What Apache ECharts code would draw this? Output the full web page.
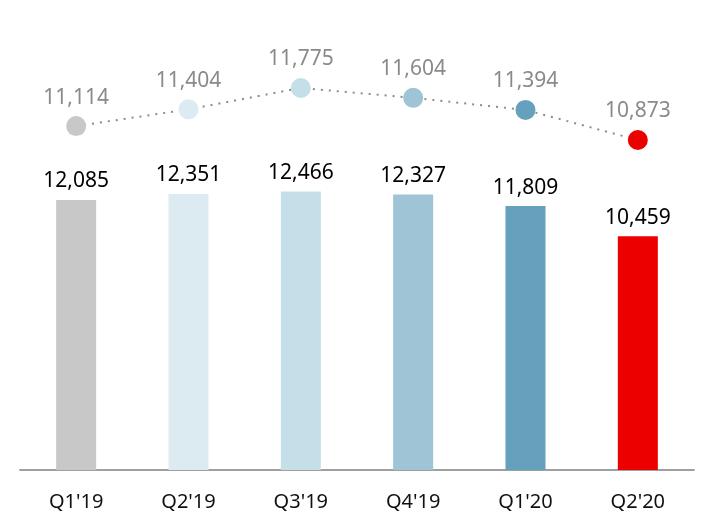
<!DOCTYPE html>
<html>
<head>
<meta charset="utf-8">
<script src="https://cdn.jsdelivr.net/npm/echarts@6/dist/echarts.min.js"></script>
<style>
html,body{margin:0;padding:0;background:#fff;}
#chart{width:714px;height:530px;}
</style>
</head>
<body>
<div id="chart"></div>
<script>
const categories = ["Q1'19", "Q2'19", "Q3'19", "Q4'19", "Q1'20", "Q2'20"];
const barValues = [12085, 12351, 12466, 12327, 11809, 10459];
const lineValues = [11114, 11404, 11775, 11604, 11394, 10873];
const palette = ['#c8c8c8', '#dcebf1', '#c5dfe8', '#9ec4d5', '#65a1bc', '#ec0000'];

const fmt = v => v.toLocaleString('en-US');
const chart = echarts.init(document.getElementById('chart'));
chart.setOption({
  animation: false,
  textStyle: { fontFamily: 'Noto Sans' },
  grid: { left: 20, right: 20, top: 23, bottom: 60 },
  xAxis: {
    type: 'category',
    data: categories,
    axisLine: { show: true, lineStyle: { color: '#a0a0a0', width: 2 } },
    axisTick: { show: false },
    axisLabel: { color: '#111', fontSize: 20, margin: 22, fontFamily: 'Noto Sans' }
  },
  yAxis: [
    { type: 'value', min: 0, max: 20000, show: false, splitLine: { show: false } },
    { type: 'value', min: 5149, max: 12902, show: false, splitLine: { show: false } }
  ],
  series: [
    {
      type: 'bar',
      yAxisIndex: 0,
      barWidth: 40,
      data: barValues.map((v, i) => ({ value: v, itemStyle: { color: palette[i] } })),
      label: {
        show: true, position: 'top', distance: 8,
        color: '#000', fontSize: 21, fontFamily: 'Noto Sans',
        formatter: p => fmt(p.value)
      }
    },
    {
      type: 'line',
      yAxisIndex: 1,
      symbol: 'circle',
      symbolSize: 20,
      lineStyle: { color: '#8c8c8c', width: 2, type: [2, 6] },
      data: lineValues.map((v, i) => ({ value: v, itemStyle: { color: palette[i] } })),
      label: {
        show: true, position: 'top', distance: 8,
        color: '#8a8a8a', fontSize: 21, fontFamily: 'Noto Sans',
        formatter: p => fmt(p.value)
      },
      z: 3
    }
  ]
});
</script>
</body>
</html>
